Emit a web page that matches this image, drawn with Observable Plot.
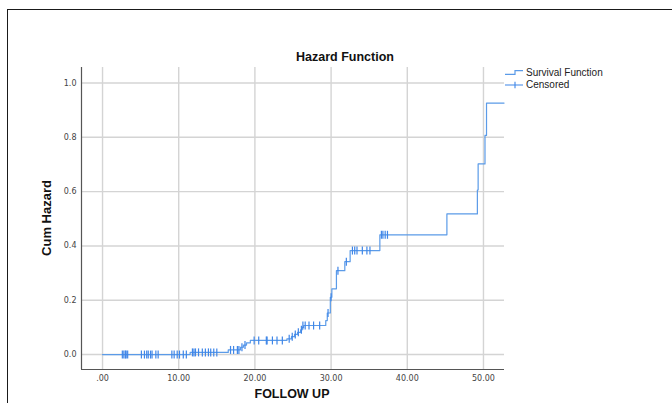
<!DOCTYPE html>
<html>
<head>
<meta charset="utf-8">
<script src="https://cdn.jsdelivr.net/npm/d3@7"></script>
<script src="https://cdn.jsdelivr.net/npm/@observablehq/plot@0.6"></script>
<style>
  body { margin: 0; background: #fff; }
  #wrap { position: relative; width: 672px; height: 403px; overflow: hidden; background: #fff; }
  #frame { position: absolute; left: 7px; top: 9px; width: 800px; height: 600px; border: 1.5px solid #1a1a1a; box-sizing: border-box; }
  #chart { position: absolute; left: 0; top: 0; }
  .lbl { position: absolute; font-family: "Liberation Sans", Arial, sans-serif; font-weight: bold; color: #111; white-space: nowrap; line-height: 1.1; }
  #title { left: 0; width: 690px; text-align: center; top: 51px; font-size: 12.5px; }
  #ylab { left: 47px; top: 218px; font-size: 13px; transform: translate(-50%, -50%) rotate(-90deg); }
  #xlab { left: 292px; top: 388px; font-size: 12.5px; transform: translateX(-50%); }
  #legend { position: absolute; left: 503px; top: 64px; font-family: "Liberation Sans", Arial, sans-serif; font-size: 10px; color: #222; }
</style>
</head>
<body>
<div id="wrap">
  <div id="frame"></div>
  <div id="chart"></div>
  <div id="title" class="lbl">Hazard Function</div>
  <div id="ylab" class="lbl">Cum Hazard</div>
  <div id="xlab" class="lbl">FOLLOW UP</div>
  <div id="legend"></div>
</div>
<script>
// ---- Data ----
const eventTimes  = [0, 11.5, 16.5, 18.1, 18.5, 18.9, 19.4, 24.2, 24.8, 25.2, 25.6, 26.0, 26.2, 26.4, 29.3, 29.5, 29.9, 30.1, 30.7, 31.8, 32.5, 36.4, 45.2, 49.2, 49.3, 50.2, 50.4, 52.7];
const eventHazard = [0, 0.008, 0.017, 0.027, 0.035, 0.043, 0.052, 0.058, 0.066, 0.074, 0.082, 0.091, 0.100, 0.107, 0.125, 0.153, 0.211, 0.242, 0.309, 0.342, 0.383, 0.441, 0.518, 0.606, 0.702, 0.807, 0.926, 0.926];

const censorTimes  = [2.6, 2.8, 3.0, 3.1, 3.3, 5.1, 5.5, 5.8, 6.0, 6.3, 6.5, 7.0, 7.3, 9.1, 9.4, 9.8, 10.1, 10.6, 11.0,
                      11.8, 12.0, 12.2, 12.6, 13.1, 13.5, 13.9, 14.2, 14.6, 15.0,
                      16.8, 17.2, 17.7, 17.9, 18.3, 18.7,
                      19.9, 20.5, 21.5, 21.6, 22.3, 22.9, 23.6,
                      24.5, 24.9, 25.3, 25.7, 26.1,
                      26.3, 26.6, 27.1, 27.7, 28.5,
                      29.6, 30.0, 30.9, 32.0,
                      32.8, 33.1, 33.4, 34.1, 34.7, 35.1,
                      36.6, 36.8, 37.1, 37.4];
const censorHazard = [0, 0, 0, 0, 0, 0, 0, 0, 0, 0, 0, 0, 0, 0, 0, 0, 0, 0, 0,
                      0.008, 0.008, 0.008, 0.008, 0.008, 0.008, 0.008, 0.008, 0.008, 0.008,
                      0.017, 0.017, 0.017, 0.017, 0.027, 0.035,
                      0.052, 0.052, 0.052, 0.052, 0.052, 0.052, 0.052,
                      0.058, 0.066, 0.074, 0.082, 0.091,
                      0.107, 0.107, 0.107, 0.107, 0.107,
                      0.153, 0.211, 0.309, 0.342,
                      0.383, 0.383, 0.383, 0.383, 0.383, 0.383,
                      0.441, 0.441, 0.441, 0.441];

const xTicks = [0, 10, 20, 30, 40, 50];
const yTicks = [0, 0.2, 0.4, 0.6, 0.8, 1.0];
const xDomain = [-2.76, 52.76];
const yDomain = [-0.055, 1.057];

const steps = eventTimes.map((t, i) => ({t, h: eventHazard[i]}));
const censored = censorTimes.map((t, i) => ({t, h: censorHazard[i]}));

const lineColor = "#5b9be8";
const markColor = "#3f86e8";

// vertical tick symbol for censored observations
const vtick = {
  draw(ctx, size) {
    const r = Math.sqrt(size / Math.PI);
    ctx.moveTo(0, -r); ctx.lineTo(0, r);
  }
};

const plot = Plot.plot({
  width: 672,
  height: 403,
  marginLeft: 81,
  marginRight: 168,
  marginTop: 67,
  marginBottom: 34,
  style: { fontFamily: "DejaVu Sans, sans-serif", fontSize: "8px", color: "#444", background: "transparent" },
  x: { domain: xDomain, ticks: xTicks, tickFormat: d => d === 0 ? ".00" : d.toFixed(2), tickSize: 0, tickPadding: 6, label: null },
  y: { domain: yDomain, ticks: yTicks, tickFormat: d => d.toFixed(1), tickSize: 0, tickPadding: 5, label: null },
  marks: [
    Plot.ruleX(xTicks, { stroke: "#d4d4d4", strokeWidth: 1.4, strokeOpacity: 1 }),
    Plot.ruleY(yTicks, { stroke: "#d4d4d4", strokeWidth: 1.4, strokeOpacity: 1 }),
    Plot.ruleX([xDomain[0]], { stroke: "#555", strokeWidth: 1.2 }),
    Plot.ruleY([yDomain[0]], { stroke: "#555", strokeWidth: 1.2 }),
    Plot.line(steps, { x: "t", y: "h", curve: "step-after", stroke: lineColor, strokeWidth: 1.2 }),
    Plot.dot(censored, { x: "t", y: "h", symbol: vtick, r: 4, stroke: markColor, fill: "none", strokeWidth: 1.2 })
  ]
});
document.getElementById("chart").appendChild(plot);

// legend
document.getElementById("legend").innerHTML = `
<svg width="120" height="30" style="position:absolute;left:0;top:0;overflow:visible">
  <path d="M2,10.3 H12 V6.7 H20" fill="none" stroke="${lineColor}" stroke-width="1.2"/>
  <path d="M2,21 H20 M12,17.7 V24.3" fill="none" stroke="${markColor}" stroke-width="1.1"/>
</svg>
<div style="position:absolute;left:23px;top:3px;white-space:nowrap">Survival Function</div>
<div style="position:absolute;left:23px;top:15px;white-space:nowrap">Censored</div>`;
</script>
</body>
</html>
